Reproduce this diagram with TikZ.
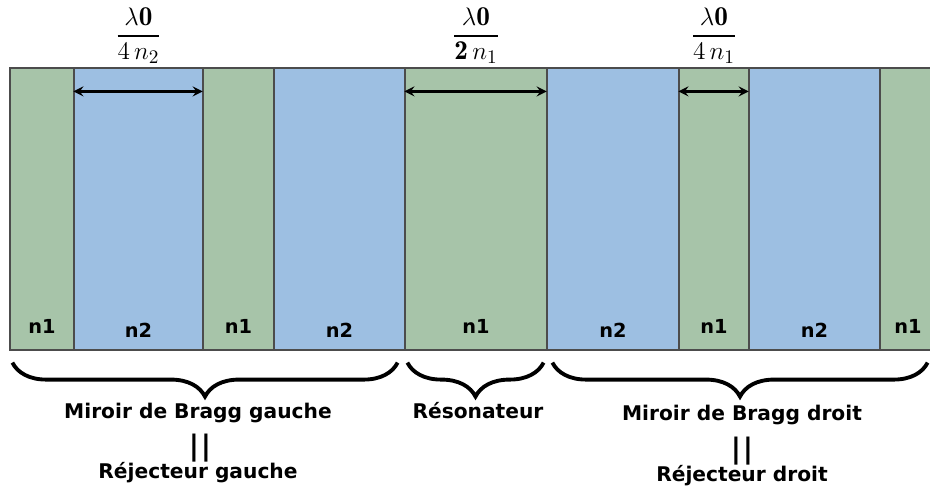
\documentclass[tikz,border=0pt]{standalone}
\usepackage{amsmath}
\usepackage{fontspec}
\setsansfont{DejaVu Sans}
\usepackage{tikz}
\usetikzlibrary{decorations.pathreplacing}
\definecolor{vert}{HTML}{A7C4A9}
\definecolor{bleu}{HTML}{9DBFE2}
\tikzset{
    % layers and labels
    couche/.style={draw=black!70, line width=0.7pt, minimum height=5.64cm, inner sep=0pt},
    indice/.style={font=\sffamily\bfseries\fontsize{11}{13}\selectfont},
    etiq/.style={font=\sffamily\bfseries\fontsize{11.5}{13}\selectfont, align=center},
    egal/.style={font=\sffamily\bfseries\fontsize{16}{18}\selectfont},
    frac/.style={font=\fontsize{15.5}{18}\selectfont},
    % arrows and braces
    dimarr/.style={-stealth, shorten >=0.5pt, line width=1.5pt, stealth-stealth},
    accol/.style={decorate, decoration={brace, mirror, amplitude=0.68cm}, line width=2.2pt},
}

\begin{document}
\begin{tikzpicture}[x=0.02cm, y=-0.02cm]
    \useasboundingbox (0,0) rectangle (930,485);
    \clip (0,0) rectangle (930,485);

 % LAYERS
    \foreach \n/\xa/\xb/\c/\t/\dy in {L1/10/74/vert/n1/0.48, L2/74/203/bleu/n2/0.40, L3/203/274/vert/n1/0.48, L4/274/405/bleu/n2/0.40, L5/405/547/vert/n1/0.48, L6/547/679/bleu/n2/0.40, L7/679/749/vert/n1/0.48, L8/749/880/bleu/n2/0.40, L9/880/936/vert/n1/0.48}{
        \pgfmathsetmacro\w{(\xb-\xa)*0.02}
        \node[couche, fill=\c, minimum width=\w cm] (\n) at ({(\xa+\xb)/2},209) {};
        \node[indice] (\n-t) at ([yshift=\dy cm]\n.south) {\t};
    }

 % WIDTHS
    \node[frac] (f2) at ([yshift=0.64cm]L2.north) {$\dfrac{\lambda\mathbf{0}}{4\,n_2}$};
    \node[frac] (f5) at ([yshift=0.64cm]L5.north) {$\dfrac{\lambda\mathbf{0}}{\mathbf{2}\,n_1}$};
    \node[frac] (f7) at ([yshift=0.64cm]L7.north) {$\dfrac{\lambda\mathbf{0}}{4\,n_1}$};

    \draw[dimarr] ([yshift=-0.48cm]L2.north west) -- ([yshift=-0.48cm]L2.north east);
    \draw[dimarr] ([yshift=-0.48cm]L5.north west) -- ([yshift=-0.48cm]L5.north east);
    \draw[dimarr] ([yshift=-0.48cm]L7.north west) -- ([yshift=-0.48cm]L7.north east);

 % BRACES
    \draw[accol] ([shift={(3,12)}]L1.south west) -- ([shift={(-8,12)}]L4.south east);
    \draw[accol] ([shift={(3,12)}]L5.south west) -- ([shift={(-4,12)}]L5.south east);
    \draw[accol] ([shift={(6,12)}]L6.south west) -- ([shift={(-9,12)}]L9.south east);

    \node[etiq] (MG) at (198,413) {Miroir de Bragg gauche};
    \node[egal] (EG) at (200,448) {|\hspace{1pt}|};
    \node[etiq] (RG) at (198,473) {Réjecteur gauche};
    \node[etiq] (R) at (478,411) {Résonateur};
    \node[etiq] (MD) at (742,415) {Miroir de Bragg droit};
    \node[egal] (ED) at (742,451) {|\hspace{1pt}|};
    \node[etiq] (RD) at (742,476) {Réjecteur droit};

\end{tikzpicture}
\end{document}
